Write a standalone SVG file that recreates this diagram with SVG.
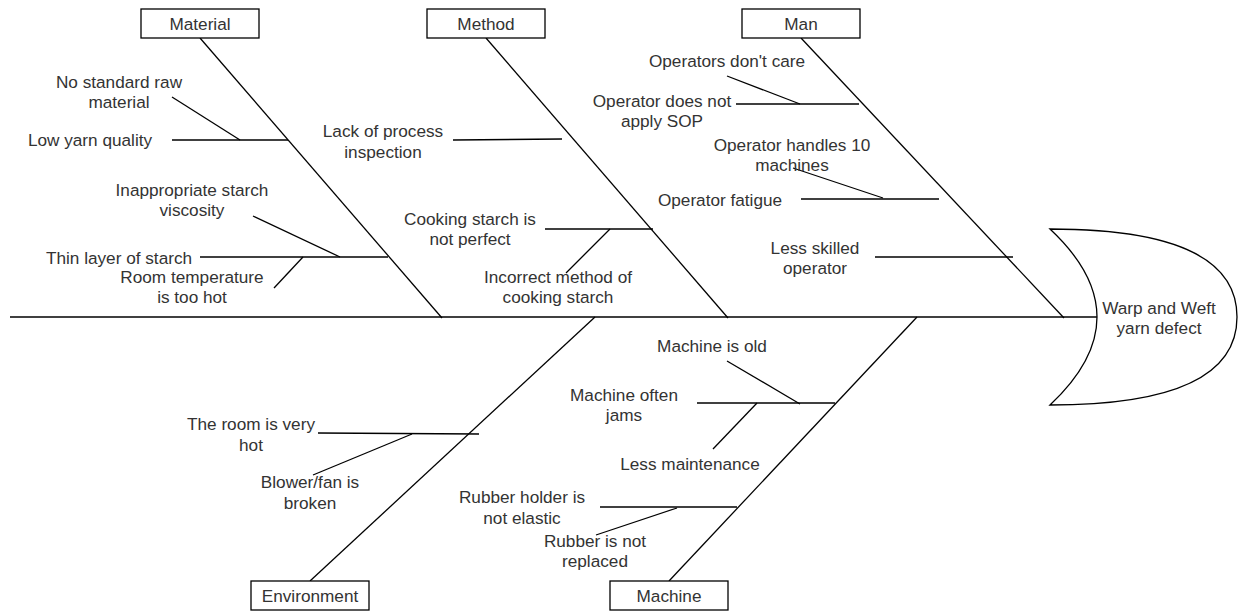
<svg xmlns="http://www.w3.org/2000/svg" width="1238" height="611" viewBox="0 0 1238 611">
<style>
text{font-family:"Liberation Sans",Arial,sans-serif;font-size:17.2px;fill:#333;text-anchor:middle}
.ln{stroke:#000;stroke-width:1.3;fill:none}
.box{fill:#fff;stroke:#000;stroke-width:1.3}
</style>
<rect width="1238" height="611" fill="#fff"/>
<g id="connectors">
<line class="ln" x1="10" y1="317" x2="1097" y2="317"/>
<line class="ln" x1="200" y1="38" x2="442" y2="318"/>
<line class="ln" x1="486" y1="38" x2="728" y2="318"/>
<line class="ln" x1="801" y1="38" x2="1064" y2="318"/>
<line class="ln" x1="310" y1="581" x2="595" y2="317"/>
<line class="ln" x1="669" y1="581" x2="917" y2="317"/>
<!-- Material branches -->
<line class="ln" x1="172" y1="97" x2="240" y2="140"/>
<line class="ln" x1="172" y1="140" x2="288" y2="140"/>
<line class="ln" x1="253" y1="216" x2="340" y2="257"/>
<line class="ln" x1="200" y1="257" x2="388" y2="257"/>
<line class="ln" x1="274" y1="288" x2="303" y2="257"/>
<!-- Method branches -->
<line class="ln" x1="453" y1="140" x2="562" y2="139"/>
<line class="ln" x1="545" y1="229" x2="653" y2="229"/>
<line class="ln" x1="566" y1="273" x2="610" y2="229"/>
<!-- Man branches -->
<line class="ln" x1="727" y1="76" x2="800" y2="104"/>
<line class="ln" x1="736" y1="104" x2="859" y2="104"/>
<line class="ln" x1="793" y1="168" x2="883" y2="198"/>
<line class="ln" x1="801" y1="199" x2="939" y2="199"/>
<line class="ln" x1="875" y1="257" x2="1013" y2="257"/>
<!-- Environment branches -->
<line class="ln" x1="318" y1="433" x2="479" y2="434"/>
<line class="ln" x1="313" y1="475" x2="412" y2="434"/>
<!-- Machine branches -->
<line class="ln" x1="727" y1="361" x2="800" y2="404"/>
<line class="ln" x1="697" y1="403" x2="835" y2="403"/>
<line class="ln" x1="713" y1="449" x2="757" y2="403"/>
<line class="ln" x1="600" y1="507" x2="737" y2="507"/>
<line class="ln" x1="596" y1="535" x2="677" y2="508"/>
</g>
<g id="head">
<path class="box" d="M1050,229 Q1237,229 1237,317 Q1237,405 1050,405 Q1144,317 1050,229 Z"/>
<text x="1159" y="314">Warp and Weft</text>
<text x="1159" y="334">yarn defect</text>
</g>
<g id="material"><rect class="box" x="141" y="9" width="118" height="29"/><text x="200" y="30">Material</text></g>
<g id="method"><rect class="box" x="427" y="9" width="118" height="29"/><text x="486" y="30">Method</text></g>
<g id="man"><rect class="box" x="742" y="9" width="118" height="29"/><text x="801" y="30">Man</text></g>
<g id="environment"><rect class="box" x="251" y="581" width="118" height="29"/><text x="310" y="602">Environment</text></g>
<g id="machine"><rect class="box" x="610" y="581" width="118" height="29"/><text x="669" y="602">Machine</text></g>
<g id="causes">
<text x="119" y="88">No standard raw</text><text x="119" y="108">material</text>
<text x="90" y="146">Low yarn quality</text>
<text x="192" y="196">Inappropriate starch</text><text x="192" y="216">viscosity</text>
<text x="119" y="264">Thin layer of starch</text>
<text x="192" y="283">Room temperature</text><text x="192" y="303">is too hot</text>
<text x="383" y="137">Lack of process</text><text x="383" y="158">inspection</text>
<text x="470" y="225">Cooking starch is</text><text x="470" y="245">not perfect</text>
<text x="558" y="283">Incorrect method of</text><text x="558" y="303">cooking starch</text>
<text x="727" y="67">Operators don't care</text>
<text x="662" y="107">Operator does not</text><text x="662" y="127">apply SOP</text>
<text x="792" y="151">Operator handles 10</text><text x="792" y="171">machines</text>
<text x="720" y="206">Operator fatigue</text>
<text x="815" y="254">Less skilled</text><text x="815" y="274">operator</text>
<text x="251" y="430">The room is very</text><text x="251" y="451">hot</text>
<text x="310" y="488">Blower/fan is</text><text x="310" y="509">broken</text>
<text x="712" y="352">Machine is old</text>
<text x="624" y="401">Machine often</text><text x="624" y="421">jams</text>
<text x="690" y="470">Less maintenance</text>
<text x="522" y="503">Rubber holder is</text><text x="522" y="524">not elastic</text>
<text x="595" y="547">Rubber is not</text><text x="595" y="567">replaced</text>
</g>
</svg>
